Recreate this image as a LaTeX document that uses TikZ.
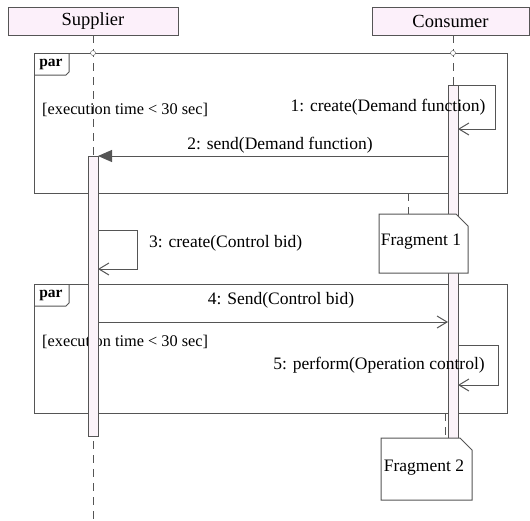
\documentclass[tikz,border=0pt]{standalone}
\usepackage{fontspec}
\setmainfont{Liberation Serif}
\usetikzlibrary{arrows.meta,positioning}

\definecolor{linegray}{HTML}{555555}
\definecolor{headpink}{HTML}{FCF0FA}
\definecolor{barpink}{HTML}{FBF3F9}

\tikzset{
  head/.style={draw=linegray, fill=headpink, minimum height=28pt, inner sep=0pt,
    font=\fontsize{18.5}{21}\selectfont},
  bar/.style={draw=linegray, fill=barpink, line width=1pt},
  frame/.style={draw=linegray, line width=1pt},
  life/.style={draw=linegray, line width=1pt, dash pattern=on 8pt off 6pt},
  msg/.style={draw=linegray, line width=1pt, -{Straight Barb[length=10pt,width=12pt]}},
  callmsg/.style={draw=linegray, line width=1pt, -{Triangle[length=14pt,width=12pt]}},
  lbl/.style={font=\fontsize{17.5}{20}\selectfont, inner sep=0pt},
  guard/.style={font=\fontsize{16.3}{19}\selectfont, inner sep=0pt, anchor=west},
  note/.style={draw=linegray, fill=white, line width=1pt}
}

\begin{document}
\begin{tikzpicture}[x=1pt,y=-1pt]
    \useasboundingbox (0,0) rectangle (530,520);
    % lifeline heads
    \node[head, minimum width=170pt] (sup) at (93,21) {Supplier};
    \node[head, minimum width=157pt] (con) at (450.5,21) {Consumer};
    % par frames
    \foreach \top/\bot/\nm in {53/193/a,284/413/b} {
      \draw[frame] (34,\top) rectangle (507,\bot);
      \draw[frame] (34,\top+22) -- (66,\top+22) -- (69,\top+19) -- (69,\top);
      \node[font=\bfseries\fontsize{15.5}{17}\selectfont, inner sep=0pt] (par\nm) at (51,\top+11) {par};
    }
    \node[guard] (g1) at (42,110) {[execution time < 30 sec]};
    \node[guard] (g2) at (42,342) {[execution time < 30 sec]};
    % lifelines
    \coordinate (supend) at (93,520);
    \coordinate (contop) at (453,85);
    \draw[life] (sup.south) -- (supend);
    \draw[life] (con.south -| contop) -- (contop);
    \draw[linegray, fill=white] (93,53) circle (2.5pt);
    \draw[linegray, fill=white] (453,53) circle (2.5pt);
    % activations
    \draw[bar] (88,156) rectangle (98,436);
    \draw[bar] (448,85) rectangle (458,440);
    % messages
    \coordinate (s1a) at (458,85);
    \coordinate (s1b) at (458,129);
    \draw[msg] (s1a) -- (495,85) -- (495,129) -- (s1b);
    \node[lbl] (l1) at (388,107) {1: create(Demand function)};
    \coordinate (m2c) at (448,156);
    \coordinate (m2s) at (98,156);
    \draw[callmsg] (m2c) -- (m2s);
    \node[lbl] (l2) at (280,145) {2: send(Demand function)};
    \coordinate (s3a) at (98,230);
    \coordinate (s3b) at (98,269);
    \draw[msg] (s3a) -- (137,230) -- (137,269) -- (s3b);
    \node[lbl, anchor=west] (l3) at (149,243) {3: create(Control bid)};
    \coordinate (m4s) at (98,322);
    \coordinate (m4c) at (448,322);
    \draw[msg] (m4s) -- (m4c);
    \node[lbl] (l4) at (281,300) {4: Send(Control bid)};
    \coordinate (s5a) at (458,345);
    \coordinate (s5b) at (458,385);
    \draw[msg] (s5a) -- (498,345) -- (498,385) -- (s5b);
    \node[lbl] (l5) at (379,365) {5: perform(Operation control)};
    % notes
    \draw[life] (408,193) -- (408,214);
    \draw[note] (379,214) -- (456,214) -- (468,226) -- (468,273) -- (379,273) -- cycle;
    \node[lbl] (f1) at (421,242) {Fragment 1};
    \draw[life] (445,413) -- (445,438);
    \draw[note] (381,438) -- (460,438) -- (472,450) -- (472,500) -- (381,500) -- cycle;
    \node[lbl] (f2) at (424,468) {Fragment 2};
\end{tikzpicture}
\end{document}
